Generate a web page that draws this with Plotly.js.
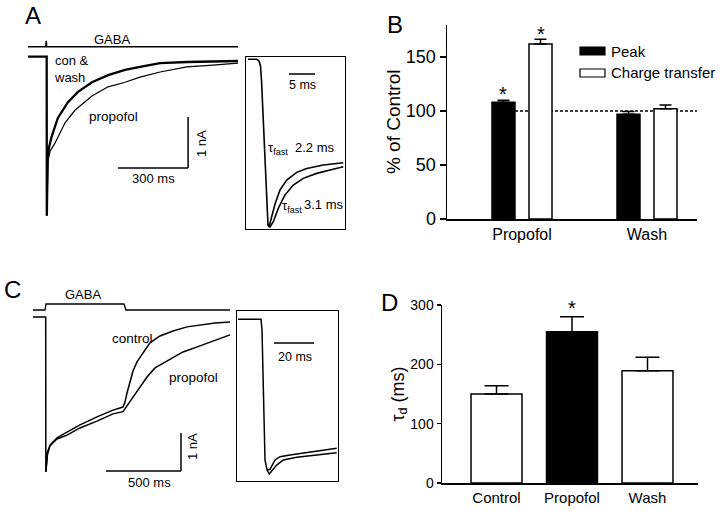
<!DOCTYPE html>
<html>
<head>
<meta charset="utf-8">
<script src="https://cdn.plot.ly/plotly-3.0.1.min.js"></script>
<style>html,body{margin:0;padding:0;background:#fff;}#chart{width:720px;height:511px;}</style>
</head>
<body>
<div id="chart"></div>
<script>
// ---------- Panel A: GABA current traces (time ms, current nA) ----------
const aGabaT = [-80, -4, -2, 0, 820];
const aGabaI = [0.196, 0.196, 0.31, 0.196, 0.196];
const aConT = [-80, 0, 0.5, 1.5, 4.3, 10, 21, 48, 91, 134, 194, 263, 336, 400, 486, 601, 820];
const aConI = [0, 0, -3.12, -2.6, -1.97, -1.78, -1.57, -1.20, -0.89, -0.69, -0.50, -0.36, -0.26, -0.20, -0.124, -0.104, -0.084];
const aPropT = [0.5, 2, 5.6, 15, 36, 78, 121, 194, 263, 336, 400, 486, 601, 713, 820];
const aPropI = [-3.12, -2.5, -2.03, -1.85, -1.69, -1.30, -1.05, -0.77, -0.59, -0.50, -0.40, -0.30, -0.20, -0.163, -0.124];
// Panel A inset (time ms, normalised current)
const aInFastT = [-1.92, -0.19, 0.19, 0.48, 0.67, 1.92, 2.12, 2.63, 3.27, 4.23, 5.52, 7.44, 9.37, 12.56, 16.4];
const aInFastI = [0, 0, -0.01, -0.04, -0.125, -0.997, -1.01, -0.948, -0.872, -0.787, -0.727, -0.681, -0.657, -0.637, -0.623];
const aInSlowT = [1.92, 2.31, 2.94, 3.90, 5.19, 6.79, 8.71, 11.28, 13.85, 16.4];
const aInSlowI = [-0.997, -1.01, -0.978, -0.898, -0.817, -0.757, -0.717, -0.687, -0.667, -0.647];

// ---------- Panel B: % of control ----------
const bCategories = ['Propofol', 'Wash'];
const bPeak = [108, 97];
const bPeakErr = [2, 2.5];
const bCharge = [162, 102];
const bChargeErr = [4.5, 3.5];
const bTicks = [0, 50, 100, 150];
const bControlLevel = 100;

// ---------- Panel C: long GABA application ----------
const cGabaT = [-85, -5, 2, 522, 535, 1229];
const cGabaI = [0.184, 0.184, 0.342, 0.342, 0.184, 0.184];
const cConT = [-85, 0, 1, 5.3, 12, 28.7, 75.3, 142, 228.7, 342, 448.7, 515.3, 528.7, 542, 562, 582, 608.7, 648.7, 695.3, 762, 848.7, 942, 1028.7, 1128.7, 1228.7];
const cConI = [0, 0, -4.08, -3.76, -3.55, -3.37, -3.18, -3.03, -2.84, -2.63, -2.45, -2.37, -2.24, -2.0, -1.71, -1.42, -1.18, -0.95, -0.68, -0.50, -0.37, -0.26, -0.21, -0.16, -0.13];
const cPropT = [1, 5.3, 12, 28.7, 75.3, 142, 228.7, 342, 448.7, 515.3, 542, 562, 595.3, 628.7, 675.3, 728.7, 808.7, 915.3, 1028.7, 1128.7, 1228.7];
const cPropI = [-4.08, -3.82, -3.61, -3.39, -3.21, -3.11, -2.92, -2.74, -2.55, -2.49, -2.34, -2.21, -2.03, -1.82, -1.58, -1.34, -1.16, -0.92, -0.76, -0.61, -0.47];
// Panel C inset (time ms, normalised current)
const cInAT = [-11.85, -0.35, 0.15, 1.65, 2.65, 3.8, 7.5, 10.8, 17.5, 25.8, 32.5, 37.5];
const cInAI = [0, 0, -0.069, -0.909, -0.974, -1.0, -0.942, -0.909, -0.892, -0.879, -0.871, -0.862];
const cInBT = [2.65, 4.15, 6.65, 9.15, 14.15, 22.5, 29.15, 37.5];
const cInBI = [-0.974, -0.970, -0.909, -0.888, -0.877, -0.862, -0.849, -0.834];

// ---------- Panel D: decay time constant ----------
const dCategories = ['Control', 'Propofol', 'Wash'];
const dTau = [150, 255, 189];
const dTauErr = [14, 25, 23];
const dTicks = [0, 100, 200, 300];

// ---------- layout helpers (page pixels -> paper) ----------
const W = 720, H = 511;
const FONT = 'Liberation Sans, Arial, Helvetica, sans-serif';
const PX = x => x / W;
const PY = y => 1 - y / H;
const xdom = (a, b) => [a / W, b / W];
const ydom = (top, bot) => [1 - bot / H, 1 - top / H];
const hidden = (dom, rng, anc) => ({domain: dom, range: rng, anchor: anc, visible: false, fixedrange: true});
const boxAxis = (dom, rng, anc) => ({domain: dom, range: rng, anchor: anc, showline: true, mirror: true, linewidth: 1.2, linecolor: '#000',
  showticklabels: false, ticks: '', showgrid: false, zeroline: false, fixedrange: true});

const line = (x, y, xa, ya, w) => ({type: 'scatter', mode: 'lines', x: x, y: y, xaxis: xa, yaxis: ya,
  line: {color: '#000', width: w}, hoverinfo: 'skip', showlegend: false, cliponaxis: false});

const traces = [
  line(aGabaT, aGabaI, 'x', 'y', 1.5),
  line(aConT, aConI, 'x', 'y', 2.3),
  line(aPropT, aPropI, 'x', 'y', 1.2),
  line(aInFastT, aInFastI, 'x2', 'y2', 1.6),
  line(aInSlowT, aInSlowI, 'x2', 'y2', 1.6),
  {type: 'bar', name: 'Peak', x: bCategories, y: bPeak, xaxis: 'x3', yaxis: 'y3', width: 0.184, offset: -0.24,
    marker: {color: '#000', line: {color: '#000', width: 1.5}},
    error_y: {type: 'data', array: bPeakErr, arrayminus: [0, 0], symmetric: false, color: '#000', thickness: 1.5, width: 6},
    showlegend: false, hoverinfo: 'skip'},
  {type: 'bar', name: 'Charge transfer', x: bCategories, y: bCharge, xaxis: 'x3', yaxis: 'y3', width: 0.184, offset: 0.056,
    marker: {color: '#fff', line: {color: '#000', width: 1.5}},
    error_y: {type: 'data', array: bChargeErr, arrayminus: [0, 0], symmetric: false, color: '#000', thickness: 1.5, width: 6},
    showlegend: false, hoverinfo: 'skip'},
  line(cGabaT, cGabaI, 'x4', 'y4', 1.3),
  line(cConT, cConI, 'x4', 'y4', 1.5),
  line(cPropT, cPropI, 'x4', 'y4', 1.5),
  line(cInAT, cInAI, 'x5', 'y5', 1.5),
  line(cInBT, cInBI, 'x5', 'y5', 1.5),
  {type: 'bar', x: dCategories, y: dTau, xaxis: 'x6', yaxis: 'y6', width: 0.675,
    marker: {color: ['#fff', '#000', '#fff'], line: {color: '#000', width: 1.5}},
    error_y: {type: 'data', array: dTauErr, arrayminus: [0, 0, 0], symmetric: false, color: '#000', thickness: 1.5, width: 12},
    showlegend: false, hoverinfo: 'skip'}
];

const ann = (x, y, text, size, extra) => Object.assign({xref: 'paper', yref: 'paper', x: PX(x), y: PY(y), text: text,
  showarrow: false, font: {family: FONT, size: size, color: '#000'}, xanchor: 'center', yanchor: 'middle'}, extra || {});

const annotations = [
  ann(33, 15, 'A', 24), ann(395, 24, 'B', 24), ann(12, 289, 'C', 24), ann(389, 302, 'D', 24),
  ann(112, 39, 'GABA', 13),
  ann(52, 69, 'con &amp;<br>wash', 13, {xanchor: 'left', align: 'left'}),
  ann(87, 116, 'propofol', 13.5, {xanchor: 'left'}),
  ann(201, 144, '1 nA', 13, {textangle: -90}),
  ann(153, 178, '300 ms', 13),
  ann(302, 85, '5 ms', 12.5),
  ann(266, 148, 'τ<sub>fast</sub>', 13, {xanchor: 'left'}),
  ann(293, 147, '2.2 ms', 13, {xanchor: 'left'}),
  ann(280, 206, 'τ<sub>fast</sub>', 13, {xanchor: 'left'}),
  ann(302, 205, '3.1 ms', 13, {xanchor: 'left'}),
  ann(83, 294, 'GABA', 13),
  ann(110, 338, 'control', 13.5, {xanchor: 'left'}),
  ann(167, 377, 'propofol', 13.5, {xanchor: 'left'}),
  ann(192, 447, '1 nA', 13, {textangle: -90}),
  ann(149.5, 482, '500 ms', 13),
  ann(295, 357, '20 ms', 12.5),
  ann(609, 51, 'Peak', 15, {xanchor: 'left'}),
  ann(609, 73, 'Charge transfer', 15, {xanchor: 'left'}),
  {xref: 'x3', yref: 'y3', x: 0, xshift: -19.5, y: bPeak[0] + bPeakErr[0], yshift: -7, text: '*', showarrow: false, yanchor: 'bottom',
    font: {family: FONT, size: 20, color: '#000'}},
  {xref: 'x3', yref: 'y3', x: 0, xshift: 18.5, y: bCharge[0] + bChargeErr[0], yshift: -8, text: '*', showarrow: false, yanchor: 'bottom',
    font: {family: FONT, size: 20, color: '#000'}},
  {xref: 'x6', yref: 'y6', x: 1, y: dTau[1] + dTauErr[1], yshift: -4, text: '*', showarrow: false, yanchor: 'bottom',
    font: {family: FONT, size: 20, color: '#000'}}
];

const sl = (xref, yref, x0, y0, x1, y1, w) => ({type: 'line', xref: xref, yref: yref, x0: x0, y0: y0, x1: x1, y1: y1,
  line: {color: '#000', width: w || 1.5}});
const shapes = [
  // scale bars A
  sl('x', 'y', 606, -1.18, 606, -2.18), sl('x', 'y', 306, -2.18, 606, -2.18),
  sl('x2', 'y2', 5.96, -0.0886, 10.96, -0.0886),
  // scale bars C
  sl('x4', 'y4', 902, -3.05, 902, -4.05), sl('x4', 'y4', 402, -4.05, 902, -4.05),
  sl('x5', 'y5', 6.15, -0.153, 26.15, -0.153),
  // control level in B
  {type: 'line', xref: 'x3', yref: 'y3', x0: -0.056, x1: 1.42, y0: bControlLevel, y1: bControlLevel, layer: 'below',
    line: {color: '#000', width: 1.3, dash: '3px,2px'}},
  // legend swatches B
  {type: 'rect', xref: 'paper', yref: 'paper', x0: PX(580), x1: PX(605), y0: PY(55), y1: PY(47), fillcolor: '#000', line: {color: '#000', width: 1.2}},
  {type: 'rect', xref: 'paper', yref: 'paper', x0: PX(580), x1: PX(605), y0: PY(77), y1: PY(69), fillcolor: '#fff', line: {color: '#000', width: 1.2}}
];

const barAxisY = (dom, rng, anc, tv, fs, len) => ({domain: dom, range: rng, anchor: anc, tickvals: tv, ticks: 'outside', ticklen: len, tickwidth: 1.5,
  tickcolor: '#000', showline: true, linewidth: 1.5, linecolor: '#000', showgrid: false, zeroline: false, fixedrange: true,
  tickfont: {family: FONT, size: fs, color: '#000'}});
const barAxisX = (dom, rng, anc, fs) => ({domain: dom, range: rng, anchor: anc, type: 'category', ticks: '', showline: true, linewidth: 1.5,
  linecolor: '#000', showgrid: false, zeroline: false, fixedrange: true, tickfont: {family: FONT, size: fs, color: '#000'}});

const layout = {
  width: W, height: H, margin: {l: 0, r: 0, t: 0, b: 0}, paper_bgcolor: '#fff', plot_bgcolor: 'rgba(0,0,0,0)',
  font: {family: FONT, color: '#000'}, showlegend: false, barmode: 'overlay',
  xaxis: hidden(xdom(20, 245), [-114.4, 849.9], 'y'),
  yaxis: hidden(ydom(30, 225), [-3.30, 0.524], 'x'),
  xaxis2: boxAxis(xdom(246, 345), [-2.31, 16.73], 'y2'),
  yaxis2: boxAxis(ydom(57, 229), [-1.022, 0.0139], 'x2'),
  xaxis3: barAxisX(xdom(447, 697), [-0.6, 1.4], 'y3', 16),
  yaxis3: Object.assign(barAxisY(ydom(24.6, 219), [0, 180], 'x3', bTicks, 18, 6),
    {title: {text: '% of Control', font: {family: FONT, size: 19, color: '#000'}, standoff: 0}}),
  xaxis4: hidden(xdom(20, 240), [-171.3, 1295.3], 'y4'),
  yaxis4: hidden(ydom(295, 490), [-4.553, 0.579], 'x4'),
  xaxis5: boxAxis(xdom(237, 337.5), [-12.35, 37.9], 'y5'),
  yaxis5: boxAxis(ydom(311, 481), [-1.045, 0.0537], 'x5'),
  xaxis6: barAxisX(xdom(442, 698), [-0.722, 2.669], 'y6', 15),
  yaxis6: Object.assign(barAxisY(ydom(305, 483), [0, 300], 'x6', dTicks, 14, 4),
    {title: {text: 'τ<sub>d</sub> (ms)', font: {family: FONT, size: 18, color: '#000'}, standoff: 0}}),
  annotations: annotations,
  shapes: shapes
};

Plotly.newPlot('chart', traces, layout, {staticPlot: true, displayModeBar: false});
</script>
</body>
</html>
